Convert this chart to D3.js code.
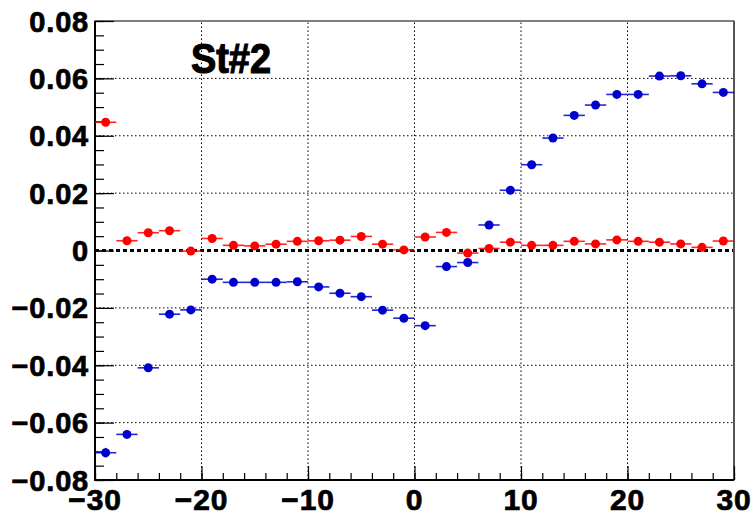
<!DOCTYPE html>
<html>
<head>
<meta charset="utf-8">
<script src="https://cdn.jsdelivr.net/npm/d3@7"></script>
<style>
  html, body { margin: 0; padding: 0; background: #fff; }
  svg { display: block; }
  text { font-family: "Liberation Sans", Arial, sans-serif; font-weight: bold; fill: #000; }
</style>
</head>
<body>
<svg id="chart" width="753" height="515"></svg>
<script>
// ---- data ----
const xCenters = [-29,-27,-25,-23,-21,-19,-17,-15,-13,-11,-9,-7,-5,-3,-1,1,3,5,7,9,11,13,15,17,19,21,23,25,27,29];
const xHalfWidth = [1,1,1,1,1,1,1,1,1,1,1,1,1,1,1,1,1,1,1,1,1,1,1,1,1,1,1,1,1,1];
const blueValues = [-0.0705,-0.0641,-0.0409,-0.0222,-0.0207,-0.0100,-0.0111,-0.0111,-0.0111,-0.0109,-0.0127,-0.0149,-0.0161,-0.0208,-0.0236,-0.0262,-0.0056,-0.0042,0.0089,0.0210,0.0299,0.0392,0.0471,0.0507,0.0544,0.0544,0.0608,0.0609,0.0581,0.0551];
const blueErrors = [0.0017,0.0006,0.0006,0.0005,0.0005,0.0005,0.0005,0.0005,0.0005,0.0005,0.0005,0.0005,0.0005,0.0005,0.0005,0.0005,0.0005,0.0005,0.0005,0.0005,0.0005,0.0005,0.0005,0.0005,0.0005,0.0005,0.0005,0.0005,0.0005,0.0005];
const redValues = [0.0447,0.0034,0.0062,0.0069,-0.0002,0.0042,0.0018,0.0016,0.0022,0.0032,0.0034,0.0036,0.0049,0.0022,0.0002,0.0047,0.0063,-0.0009,0.0007,0.0029,0.0018,0.0018,0.0032,0.0023,0.0037,0.0032,0.0029,0.0023,0.0011,0.0033];
const redErrors = [0.0005,0.0005,0.0005,0.0005,0.0005,0.0005,0.0005,0.0005,0.0005,0.0005,0.0005,0.0005,0.0005,0.0005,0.0005,0.0005,0.0005,0.0005,0.0005,0.0005,0.0005,0.0005,0.0005,0.0005,0.0005,0.0005,0.0005,0.0005,0.0005,0.0005];
const xTickValues = [-30,-20,-10,0,10,20,30];
const xTickLabels = ["\u221230","\u221220","\u221210","0","10","20","30"];
const yTickValues = [-0.08,-0.06,-0.04,-0.02,0,0.02,0.04,0.06,0.08];
const yTickLabels = ["\u22120.08","\u22120.06","\u22120.04","\u22120.02","0","0.02","0.04","0.06","0.08"];
const titleText = "St#2";

// ---- layout ----
const W = 753, H = 515;
const m = {left: 95, right: 19, top: 21, bottom: 35};
const svg = d3.select("#chart");
const x = d3.scaleLinear().domain([-30, 30]).range([m.left, W - m.right]);
const y = d3.scaleLinear().domain([-0.08, 0.08]).range([H - m.bottom, m.top]);
const x0 = m.left, x1 = W - m.right, y0 = H - m.bottom, y1 = m.top;

// grid
const g = svg.append("g");
g.selectAll("line.vg").data(xTickValues.filter(v => v > -30 && v < 30)).join("line")
  .attr("x1", d => x(d)).attr("x2", d => x(d)).attr("y1", y0).attr("y2", y1)
  .attr("stroke", "#000").attr("stroke-width", 1).attr("stroke-dasharray", "1.5,2.5");
g.selectAll("line.hg").data(yTickValues.filter(v => v > -0.08 && v < 0.08 && v !== 0)).join("line")
  .attr("x1", x0).attr("x2", x1).attr("y1", d => y(d)).attr("y2", d => y(d))
  .attr("stroke", "#000").attr("stroke-width", 1).attr("stroke-dasharray", "1.5,2.5");

// zero line
svg.append("line").attr("x1", x0).attr("x2", x1).attr("y1", y(0)).attr("y2", y(0))
  .attr("stroke", "#000").attr("stroke-width", 3).attr("stroke-dasharray", "4,3");

// frame
svg.append("rect").attr("x", x0).attr("y", y1).attr("width", x1 - x0).attr("height", y0 - y1)
  .attr("fill", "none").attr("stroke", "#000").attr("stroke-width", 1);
svg.append("line").attr("x1", x1).attr("x2", x1).attr("y1", y1).attr("y2", y0)
  .attr("stroke", "#555").attr("stroke-width", 2);

// axes
const yMinor = d3.range(-0.08, 0.0801, 0.005);
const xMinor = d3.range(-30, 30.01, 2);
const yAxisMinor = d3.axisRight(y).tickValues(yMinor).tickSize(9).tickFormat("");
const yAxisMajor = d3.axisRight(y).tickValues(yTickValues).tickSize(19).tickFormat("");
const xAxisMinor = d3.axisTop(x).tickValues(xMinor).tickSize(7).tickFormat("");
const xAxisMajor = d3.axisTop(x).tickValues(xTickValues).tickSize(14).tickFormat("");
[yAxisMinor, yAxisMajor].forEach(a => {
  const ga = svg.append("g").attr("transform", `translate(${x0},0)`).call(a);
  ga.select(".domain").remove();
  ga.selectAll("line").attr("stroke", "#000").attr("stroke-width", 1.2);
});
[xAxisMinor, xAxisMajor].forEach(a => {
  const ga = svg.append("g").attr("transform", `translate(0,${y0})`).call(a);
  ga.select(".domain").remove();
  ga.selectAll("line").attr("stroke", "#000").attr("stroke-width", 1.2);
});
svg.append("line").attr("x1", x0).attr("x2", x0).attr("y1", y1).attr("y2", y0 + 1)
  .attr("stroke", "#000").attr("stroke-width", 2);
svg.append("line").attr("x1", x0).attr("x2", x1).attr("y1", y0).attr("y2", y0)
  .attr("stroke", "#000").attr("stroke-width", 2);

// tick labels
svg.append("g").selectAll("text").data(yTickValues).join("text")
  .attr("x", 89).attr("y", d => y(d) + 10.5)
  .attr("text-anchor", "end").attr("font-size", 29).attr("letter-spacing", 0.8)
  .attr("stroke", "#000").attr("stroke-width", 0.7)
  .text((d, i) => yTickLabels[i]);
svg.append("g").selectAll("text").data(xTickValues).join("text")
  .attr("x", d => x(d)).attr("y", 510)
  .attr("text-anchor", "middle").attr("font-size", 30).attr("letter-spacing", 0.8)
  .attr("stroke", "#000").attr("stroke-width", 0.7)
  .text((d, i) => xTickLabels[i]);

// series
function drawSeries(vals, errs, color) {
  const data = xCenters.map((xc, i) => ({x: xc, hw: xHalfWidth[i], v: vals[i], e: errs[i]}));
  const s = svg.append("g");
  s.selectAll("line.h").data(data).join("line")
    .attr("x1", d => x(d.x - d.hw)).attr("x2", d => x(d.x + d.hw))
    .attr("y1", d => y(d.v)).attr("y2", d => y(d.v))
    .attr("stroke", color).attr("stroke-width", 1.6).attr("stroke-opacity", 0.85);
  s.selectAll("line.v").data(data).join("line")
    .attr("x1", d => x(d.x)).attr("x2", d => x(d.x))
    .attr("y1", d => y(d.v - d.e)).attr("y2", d => y(d.v + d.e))
    .attr("stroke", color).attr("stroke-width", 1.6).attr("stroke-opacity", 0.85);
  s.selectAll("circle").data(data).join("circle")
    .attr("cx", d => x(d.x)).attr("cy", d => y(d.v)).attr("r", 4.5)
    .attr("fill", color);
}
drawSeries(blueValues, blueErrors, "#0000cc");
drawSeries(redValues, redErrors, "#ff0000");

// title
svg.append("text").attr("x", 191).attr("y", 73)
  .attr("font-size", 42).attr("textLength", 80).attr("lengthAdjust", "spacingAndGlyphs")
  .attr("stroke", "#000").attr("stroke-width", 1.2)
  .text(titleText);
</script>
</body>
</html>
